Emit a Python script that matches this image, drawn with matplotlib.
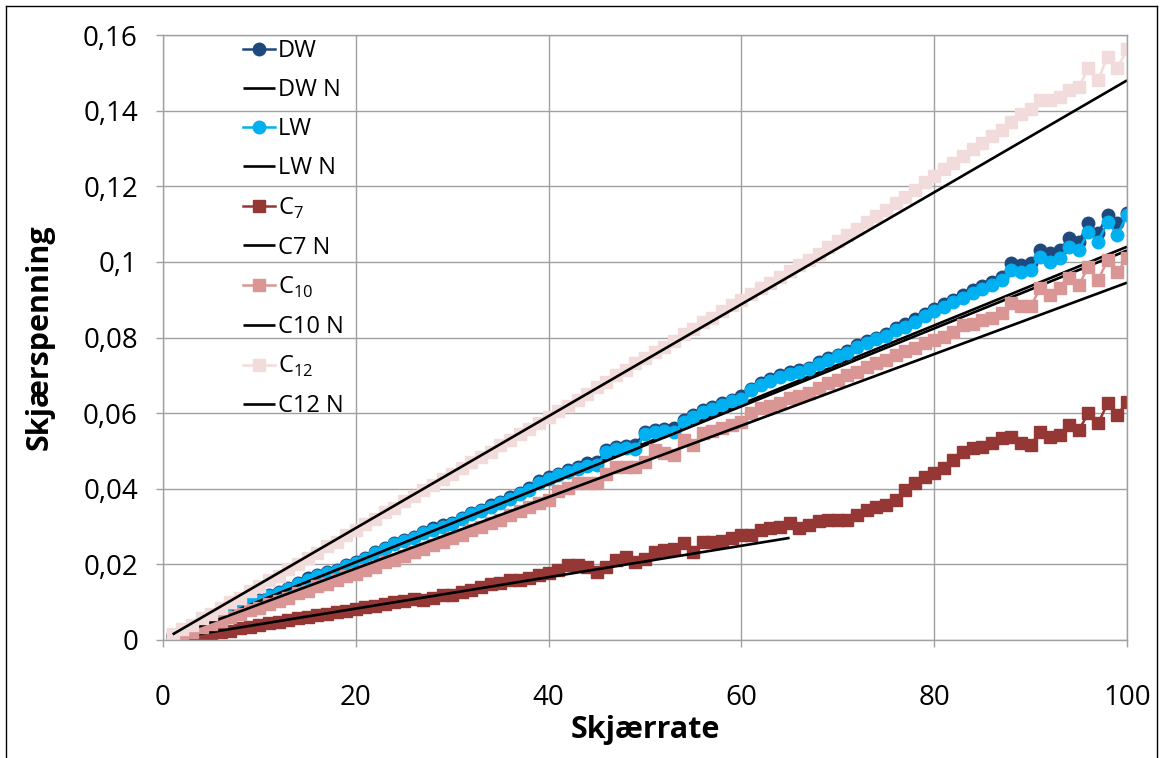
import matplotlib
matplotlib.use("Agg")
import matplotlib.pyplot as plt
from matplotlib.lines import Line2D

plt.rcParams['font.family'] = ['Open Sans', 'DejaVu Sans']

# Shear rate (1/s), measured at every unit step
shear_rate = list(range(1, 101))

dw = [0.0010, 0.0021, 0.0031, 0.0042, 0.0052, 0.0063, 0.0080, 0.0093, 0.0101, 0.0106,
      0.0119, 0.0128, 0.0137, 0.0150, 0.0163, 0.0172, 0.0181, 0.0185, 0.0198, 0.0207,
      0.0216, 0.0232, 0.0243, 0.0256, 0.0265, 0.0273, 0.0285, 0.0295, 0.0304, 0.0309,
      0.0322, 0.0336, 0.0345, 0.0357, 0.0365, 0.0378, 0.0390, 0.0402, 0.0420, 0.0432,
      0.0440, 0.0450, 0.0458, 0.0467, 0.0470, 0.0503, 0.0510, 0.0514, 0.0516, 0.0551,
      0.0555, 0.0558, 0.0560, 0.0582, 0.0596, 0.0607, 0.0617, 0.0627, 0.0636, 0.0644,
      0.0665, 0.0679, 0.0690, 0.0700, 0.0708, 0.0715, 0.0720, 0.0735, 0.0745, 0.0755,
      0.0765, 0.0780, 0.0790, 0.0800, 0.0810, 0.0825, 0.0835, 0.0848, 0.0862, 0.0875,
      0.0888, 0.0900, 0.0912, 0.0925, 0.0937, 0.0948, 0.0961, 0.0997, 0.0992, 0.0997,
      0.1031, 0.1023, 0.1031, 0.1063, 0.1053, 0.1103, 0.1076, 0.1124, 0.1103, 0.1128]

lw = [0.0010, 0.0020, 0.0031, 0.0041, 0.0051, 0.0062, 0.0078, 0.0090, 0.0098, 0.0104,
      0.0116, 0.0125, 0.0134, 0.0147, 0.0160, 0.0169, 0.0178, 0.0183, 0.0195, 0.0204,
      0.0213, 0.0229, 0.0240, 0.0253, 0.0262, 0.0270, 0.0282, 0.0292, 0.0300, 0.0306,
      0.0319, 0.0332, 0.0342, 0.0353, 0.0361, 0.0374, 0.0386, 0.0398, 0.0415, 0.0427,
      0.0436, 0.0445, 0.0452, 0.0460, 0.0462, 0.0497, 0.0505, 0.0508, 0.0505, 0.0545,
      0.0550, 0.0552, 0.0550, 0.0577, 0.0591, 0.0602, 0.0612, 0.0622, 0.0631, 0.0638,
      0.0660, 0.0674, 0.0685, 0.0695, 0.0703, 0.0710, 0.0716, 0.0730, 0.0740, 0.0750,
      0.0760, 0.0775, 0.0785, 0.0795, 0.0805, 0.0819, 0.0829, 0.0842, 0.0856, 0.0869,
      0.0881, 0.0893, 0.0905, 0.0918, 0.0929, 0.0940, 0.0952, 0.0979, 0.0974, 0.0979,
      0.1014, 0.1000, 0.1010, 0.1040, 0.1031, 0.1080, 0.1053, 0.1106, 0.1071, 0.1124]

c7 = [0.0002, 0.0005, 0.0010, 0.0012, 0.0018, 0.0022, 0.0025, 0.0032, 0.0035, 0.0040,
      0.0045, 0.0048, 0.0052, 0.0058, 0.0060, 0.0066, 0.0068, 0.0075, 0.0078, 0.0082,
      0.0086, 0.0090, 0.0095, 0.0100, 0.0102, 0.0108, 0.0106, 0.0112, 0.0118, 0.0120,
      0.0128, 0.0132, 0.0140, 0.0148, 0.0152, 0.0158, 0.0160, 0.0165, 0.0172, 0.0176,
      0.0185, 0.0198, 0.0198, 0.0194, 0.0180, 0.0192, 0.0212, 0.0220, 0.0205, 0.0215,
      0.0234, 0.0238, 0.0240, 0.0256, 0.0232, 0.0258, 0.0260, 0.0262, 0.0270, 0.0278,
      0.0278, 0.0291, 0.0296, 0.0300, 0.0309, 0.0295, 0.0304, 0.0315, 0.0317, 0.0317,
      0.0318, 0.0331, 0.0344, 0.0353, 0.0357, 0.0370, 0.0397, 0.0414, 0.0432, 0.0441,
      0.0454, 0.0476, 0.0498, 0.0507, 0.0511, 0.0520, 0.0533, 0.0538, 0.0520, 0.0516,
      0.0551, 0.0538, 0.0542, 0.0569, 0.0555, 0.0600, 0.0573, 0.0626, 0.0595, 0.0630]

c10 = [0.0008, 0.0015, 0.0022, 0.0035, 0.0042, 0.0050, 0.0062, 0.0068, 0.0080, 0.0085,
       0.0095, 0.0104, 0.0112, 0.0124, 0.0130, 0.0142, 0.0148, 0.0160, 0.0168, 0.0175,
       0.0186, 0.0192, 0.0205, 0.0212, 0.0222, 0.0232, 0.0240, 0.0250, 0.0258, 0.0270,
       0.0278, 0.0290, 0.0300, 0.0310, 0.0318, 0.0330, 0.0340, 0.0352, 0.0362, 0.0370,
       0.0395, 0.0401, 0.0414, 0.0414, 0.0414, 0.0440, 0.0458, 0.0458, 0.0458, 0.0470,
       0.0502, 0.0495, 0.0489, 0.0529, 0.0516, 0.0547, 0.0552, 0.0560, 0.0568, 0.0577,
       0.0600, 0.0613, 0.0620, 0.0626, 0.0639, 0.0645, 0.0652, 0.0666, 0.0679, 0.0688,
       0.0701, 0.0710, 0.0723, 0.0732, 0.0741, 0.0754, 0.0763, 0.0771, 0.0785, 0.0793,
       0.0802, 0.0815, 0.0833, 0.0837, 0.0846, 0.0851, 0.0864, 0.0890, 0.0882, 0.0882,
       0.0930, 0.0912, 0.0930, 0.0957, 0.0939, 0.0987, 0.0952, 0.1005, 0.0974, 0.1010]

c12 = [0.0015, 0.0030, 0.0040, 0.0058, 0.0070, 0.0085, 0.0100, 0.0112, 0.0130, 0.0142,
       0.0158, 0.0170, 0.0188, 0.0200, 0.0218, 0.0230, 0.0248, 0.0260, 0.0278, 0.0292,
       0.0308, 0.0320, 0.0338, 0.0350, 0.0368, 0.0380, 0.0398, 0.0410, 0.0425, 0.0440,
       0.0455, 0.0470, 0.0485, 0.0498, 0.0515, 0.0528, 0.0545, 0.0558, 0.0575, 0.0590,
       0.0605, 0.0620, 0.0635, 0.0650, 0.0668, 0.0682, 0.0700, 0.0715, 0.0732, 0.0745,
       0.0762, 0.0775, 0.0792, 0.0808, 0.0822, 0.0840, 0.0852, 0.0870, 0.0885, 0.0900,
       0.0915, 0.0930, 0.0945, 0.0960, 0.0975, 0.0992, 0.1005, 0.1022, 0.1040, 0.1055,
       0.1072, 0.1088, 0.1105, 0.1122, 0.1138, 0.1155, 0.1172, 0.1190, 0.1210, 0.1228,
       0.1245, 0.1262, 0.1280, 0.1298, 0.1315, 0.1332, 0.1350, 0.1370, 0.1390, 0.1405,
       0.1428, 0.1428, 0.1437, 0.1455, 0.1463, 0.1512, 0.1481, 0.1543, 0.1512, 0.1562]

# Newtonian model lines: [start, end] shear rate and stress
dw_n_x, dw_n_y = [1, 100], [0.00104, 0.1040]
lw_n_x, lw_n_y = [1, 100], [0.00103, 0.1030]
c7_n_x, c7_n_y = [1, 65], [0.00042, 0.0270]
c10_n_x, c10_n_y = [1, 100], [0.00095, 0.0945]
c12_n_x, c12_n_y = [1, 100], [0.00148, 0.1480]

y_ticks = [0, 0.02, 0.04, 0.06, 0.08, 0.10, 0.12, 0.14, 0.16]
y_tick_labels = ['0', '0,02', '0,04', '0,06', '0,08', '0,1', '0,12', '0,14', '0,16']
x_ticks = [0, 20, 40, 60, 80, 100]
x_tick_labels = ['0', '20', '40', '60', '80', '100']

fig = plt.figure(figsize=(11.61, 7.58), dpi=100)
ax = fig.add_axes([163 / 1161, 1 - 640 / 758, 964 / 1161, 605 / 758])

fit_kw = dict(color='black', lw=1.9, solid_capstyle='butt')
ax.plot(shear_rate, dw, color='#1F497D', lw=1.8, marker='o', ms=9, label='DW')
ax.plot(dw_n_x, dw_n_y, label='DW N', **fit_kw)
ax.plot(shear_rate, lw, color='#00B0F0', lw=1.8, marker='o', ms=9, label='LW')
ax.plot(lw_n_x, lw_n_y, label='LW N', **fit_kw)
ax.plot(shear_rate, c7, color='#953735', lw=1.8, marker='s', ms=8.5, label=r'C$_\mathregular{7}$')
ax.plot(c7_n_x, c7_n_y, label='C7 N', **fit_kw)
ax.plot(shear_rate, c10, color='#D99694', lw=1.8, marker='s', ms=8.5, label=r'C$_\mathregular{10}$')
ax.plot(c10_n_x, c10_n_y, label='C10 N', **fit_kw)
ax.plot(shear_rate, c12, color='#F2DCDB', lw=1.8, marker='s', ms=8.5, label=r'C$_\mathregular{12}$')
ax.plot(c12_n_x, c12_n_y, label='C12 N', **fit_kw)

ax.set_xlim(0, 100)
ax.set_ylim(0, 0.16)
ax.set_xticks(x_ticks)
ax.set_xticklabels(x_tick_labels)
ax.set_yticks(y_ticks)
ax.set_yticklabels(y_tick_labels)
ax.grid(True, color='#A0A0A0', lw=1.0)
ax.set_axisbelow(True)
for s in ax.spines.values():
    s.set_color('#A0A0A0')
    s.set_linewidth(1.0)
ax.tick_params(axis='both', colors='#A0A0A0', length=5, width=1.0, labelsize=20,
               labelcolor='black')
ax.tick_params(axis='y', pad=13)
ax.tick_params(axis='x', pad=27)

ax.set_xlabel('Skjærrate', fontsize=22, fontweight='bold')
ax.set_ylabel('Skjærspenning', fontsize=22, fontweight='bold')
ax.xaxis.set_label_coords(0.5, -0.149)
ax.xaxis.label.set_va('center')
ax.yaxis.set_label_coords(-0.1276, 0.5)
ax.yaxis.label.set_va('center')

ax.legend(loc='upper left', bbox_to_anchor=(80 / 964, 0.9926), frameon=False,
          fontsize=17, handlelength=1.36, handletextpad=0.13,
          labelspacing=0.635, borderaxespad=0.0, borderpad=0.0)

# thin outer frame
for xs, ys in [([6, 6], [6, 758]), ([6, 1157], [6, 6]), ([1157, 1157], [6, 758])]:
    fig.add_artist(Line2D([x / 1161 for x in xs], [1 - y / 758 for y in ys],
                          transform=fig.transFigure, color='black', lw=1.0))

fig.savefig('out.png', dpi=100)
